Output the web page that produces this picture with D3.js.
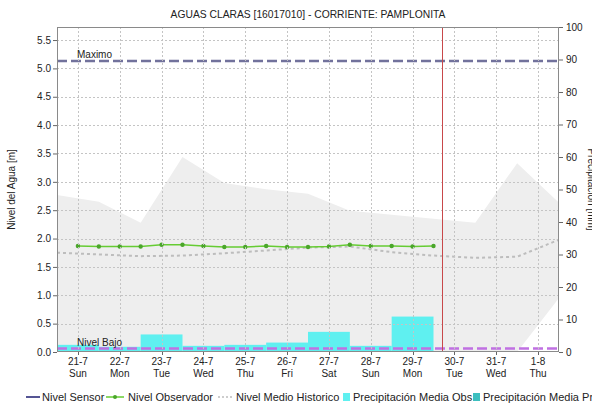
<!DOCTYPE html>
<html>
<head>
<meta charset="utf-8">
<script src="https://cdn.jsdelivr.net/npm/d3@7"></script>
<style>
  body { margin: 0; background: #fff; }
  svg text { font-family: "Liberation Sans", Arial, sans-serif; fill: #222; }
</style>
</head>
<body>
<svg id="chart" width="592" height="403"></svg>
<script>
// Station data: AGUAS CLARAS [16017010], river Pamplonita, 21-7 to 1-8
const dayLabels = ["21-7","22-7","23-7","24-7","25-7","26-7","27-7","28-7","29-7","30-7","31-7","1-8"];
const weekdayLabels = ["Sun","Mon","Tue","Wed","Thu","Fri","Sat","Sun","Mon","Tue","Wed","Thu"];

// daily observed precipitation [mm], 21-7 .. 29-7
const precipObs = [2.2, 1.6, 5.4, 1.9, 2.2, 2.9, 6.2, 1.9, 10.9];
// daily forecast precipitation [mm], 30-7 .. 1-8
const precipForecast = [0, 0, 0];

// observer readings [m], twice a day from 21-7 12:00 to 30-7 00:00
const observerLevel = [1.87, 1.86, 1.86, 1.86, 1.89, 1.89, 1.87, 1.85, 1.85,
                       1.87, 1.85, 1.85, 1.86, 1.89, 1.87, 1.87, 1.86, 1.87];

// historic envelope and mean [m], at midnight from 21-7 to 2-8
const historicMax  = [2.77, 2.65, 2.28, 3.44, 2.98, 2.87, 2.79, 2.49, 2.42, 2.35, 2.28, 3.33, 2.63];
const historicMin  = [0, 0, 0, 0, 0, 0, 0, 0, 0, 0, 0, 0, 0.95];
const historicMean = [1.75, 1.72, 1.69, 1.70, 1.74, 1.79, 1.84, 1.86, 1.76, 1.70, 1.66, 1.68, 1.98];

// sensor level [m] (no signal)
const sensorLevel = [0, 0];

const levelMax = 5.13;
const levelLow = 0.06;
const levelTicks = [0, 0.5, 1, 1.5, 2, 2.5, 3, 3.5, 4, 4.5, 5, 5.5];
const precipTicks = [0, 10, 20, 30, 40, 50, 60, 70, 80, 90, 100];
const nowTime = new Date(2019, 6, 30, 4, 40);

const W = 592, H = 403;
const M = { left: 57, right: 33, top: 27, bottom: 51 };
const svg = d3.select("#chart");

const start = new Date(2019, 6, 21);
const end = new Date(2019, 7, 2);
const day = i => d3.timeDay.offset(start, i);
const halfDay = i => d3.timeHour.offset(start, 12 * i);

const x = d3.scaleTime().domain([start, end]).range([M.left, W - M.right]);
const y = d3.scaleLinear().domain([0, 5.73]).range([H - M.bottom, M.top]);
const yP = d3.scaleLinear().domain([0, 100]).range([H - M.bottom, M.top]);

const tickDates = dayLabels.map((d, i) => d3.timeHour.offset(day(i), 12));

// clip for plot content
svg.append("clipPath").attr("id", "plotClip").append("rect")
  .attr("x", M.left).attr("y", M.top)
  .attr("width", W - M.left - M.right).attr("height", H - M.top - M.bottom);
const plot = svg.append("g").attr("clip-path", "url(#plotClip)");

// historic envelope
const band = historicMax.map((v, i) => ({ t: day(i), hi: v, lo: historicMin[i] }));
plot.append("path").datum(band)
  .attr("fill", "#eeeeee")
  .attr("d", d3.area().x(d => x(d.t)).y0(d => y(d.lo)).y1(d => y(d.hi)));

// grid
const grid = svg.append("g").attr("stroke", "#c4c4c4").attr("stroke-dasharray", "2,2").attr("stroke-width", 1);
grid.selectAll("line.h").data(levelTicks.filter(v => v > 0)).join("line")
  .attr("x1", M.left).attr("x2", W - M.right)
  .attr("y1", d => Math.round(y(d)) + 0.5).attr("y2", d => Math.round(y(d)) + 0.5);
grid.selectAll("line.v").data(tickDates).join("line")
  .attr("x1", d => Math.round(x(d)) + 0.5).attr("x2", d => Math.round(x(d)) + 0.5)
  .attr("y1", M.top).attr("y2", H - M.bottom);

// precipitation bars
plot.selectAll("rect.obs").data(precipObs).join("rect")
  .attr("fill", "#5ff0f0")
  .attr("x", (d, i) => x(day(i)))
  .attr("width", (d, i) => x(day(i + 1)) - x(day(i)))
  .attr("y", d => yP(d))
  .attr("height", d => yP(0) - yP(d));
plot.selectAll("rect.fc").data(precipForecast).join("rect")
  .attr("fill", "#3dbfbf")
  .attr("x", (d, i) => x(day(i + precipObs.length)))
  .attr("width", (d, i) => x(day(i + 1)) - x(day(i)))
  .attr("y", d => yP(d))
  .attr("height", d => yP(0) - yP(d));

// historic mean
plot.append("path").datum(historicMean)
  .attr("fill", "none").attr("stroke", "#bdbdbd").attr("stroke-width", 2)
  .attr("stroke-dasharray", "3,3")
  .attr("d", d3.line().x((d, i) => x(day(i))).y(d => y(d)));

// threshold lines
plot.append("line")
  .attr("x1", M.left).attr("x2", W - M.right)
  .attr("y1", y(levelMax)).attr("y2", y(levelMax))
  .attr("stroke", "#72729c").attr("stroke-width", 2.5).attr("stroke-dasharray", "10,4");
plot.append("line")
  .attr("x1", M.left).attr("x2", W - M.right)
  .attr("y1", y(levelLow)).attr("y2", y(levelLow))
  .attr("stroke", "#c070e2").attr("stroke-width", 2.5).attr("stroke-dasharray", "10,4");
svg.append("text").attr("x", 77).attr("y", y(levelMax) - 3)
  .attr("font-size", 10).text("Maximo");
svg.append("text").attr("x", 77).attr("y", y(levelLow) - 3)
  .attr("font-size", 10).text("Nivel Bajo");

// sensor level
plot.append("path").datum(sensorLevel)
  .attr("fill", "none").attr("stroke", "#1c1c70").attr("stroke-width", 1)
  .attr("stroke-dasharray", "1,1")
  .attr("d", d3.line().x((d, i) => x(i === 0 ? start : end)).y(d => y(d) - 0.5));

// observer readings
const obs = observerLevel.map((v, i) => ({ t: halfDay(i + 1), v }));
plot.append("path").datum(obs)
  .attr("fill", "none").attr("stroke", "#66cc33").attr("stroke-width", 1.5)
  .attr("d", d3.line().x(d => x(d.t)).y(d => y(d.v)));
plot.selectAll("circle.obs").data(obs).join("circle")
  .attr("cx", d => x(d.t)).attr("cy", d => y(d.v)).attr("r", 2.2)
  .attr("fill", "#4aa62a");

// current time marker
svg.append("line")
  .attr("x1", Math.round(x(nowTime)) + 0.5).attr("x2", Math.round(x(nowTime)) + 0.5)
  .attr("y1", M.top).attr("y2", H - M.bottom)
  .attr("stroke", "#c8484a").attr("stroke-width", 1);

// frame
svg.append("rect")
  .attr("x", M.left + 0.5).attr("y", M.top + 0.5)
  .attr("width", W - M.left - M.right - 1).attr("height", H - M.top - M.bottom - 1)
  .attr("fill", "none").attr("stroke", "#8a8a8a");

// left axis
const yAxis = svg.append("g").attr("transform", `translate(${M.left},0)`)
  .call(d3.axisLeft(y).tickValues(levelTicks).tickFormat(d3.format(".1f")).tickSize(4).tickPadding(2));
yAxis.select(".domain").remove();
yAxis.selectAll("line").attr("stroke", "#666");
yAxis.selectAll("text").attr("font-size", 10).attr("fill", "#222");

// right axis
const pAxis = svg.append("g").attr("transform", `translate(${W - M.right},0)`)
  .call(d3.axisRight(yP).tickValues(precipTicks).tickSize(4).tickPadding(3));
pAxis.select(".domain").remove();
pAxis.selectAll("line").attr("stroke", "#666");
pAxis.selectAll("text").attr("font-size", 10).attr("fill", "#222");

// x axis labels
const xl = svg.append("g");
xl.selectAll("line").data(tickDates).join("line")
  .attr("x1", d => Math.round(x(d)) + 0.5).attr("x2", d => Math.round(x(d)) + 0.5)
  .attr("y1", H - M.bottom).attr("y2", H - M.bottom + 3).attr("stroke", "#666");
xl.selectAll("text.d").data(tickDates).join("text")
  .attr("x", d => x(d)).attr("y", H - M.bottom + 13)
  .attr("text-anchor", "middle").attr("font-size", 10)
  .text((d, i) => dayLabels[i]);
xl.selectAll("text.w").data(tickDates).join("text")
  .attr("x", d => x(d)).attr("y", H - M.bottom + 25)
  .attr("text-anchor", "middle").attr("font-size", 10)
  .text((d, i) => weekdayLabels[i]);

// titles
svg.append("text").attr("x", (M.left + W - M.right) / 2).attr("y", 18)
  .attr("text-anchor", "middle").attr("font-size", 10.3)
  .text("AGUAS CLARAS [16017010] - CORRIENTE: PAMPLONITA");
svg.append("text")
  .attr("transform", `translate(15,${(M.top + H - M.bottom) / 2}) rotate(-90)`)
  .attr("text-anchor", "middle").attr("font-size", 10)
  .text("Nivel del Agua [m]");
svg.append("text")
  .attr("transform", `translate(588,${(M.top + H - M.bottom) / 2}) rotate(90)`)
  .attr("text-anchor", "middle").attr("font-size", 10)
  .text("Precipitación [mm]");

// legend
const lg = svg.append("g").attr("transform", "translate(0,397)");
lg.append("line").attr("x1", 26).attr("x2", 40).attr("y1", 0).attr("y2", 0)
  .attr("stroke", "#1c1c70").attr("stroke-width", 1.5);
lg.append("text").attr("x", 42).attr("y", 4).attr("font-size", 11).text("Nivel Sensor");
lg.append("line").attr("x1", 106).attr("x2", 124).attr("y1", 0).attr("y2", 0)
  .attr("stroke", "#66cc33").attr("stroke-width", 1.5);
lg.append("circle").attr("cx", 115).attr("cy", 0).attr("r", 2).attr("fill", "#4aa62a");
lg.append("text").attr("x", 128).attr("y", 4).attr("font-size", 11).text("Nivel Observador");
lg.append("line").attr("x1", 218).attr("x2", 233).attr("y1", 0).attr("y2", 0)
  .attr("stroke", "#bdbdbd").attr("stroke-width", 1.5).attr("stroke-dasharray", "2,2");
lg.append("text").attr("x", 236).attr("y", 4).attr("font-size", 11).text("Nivel Medio Historico");
lg.append("rect").attr("x", 343).attr("y", -4).attr("width", 7).attr("height", 8).attr("fill", "#5ff0f0");
lg.append("text").attr("x", 353).attr("y", 4).attr("font-size", 11).text("Precipitación Media Obs");
lg.append("rect").attr("x", 473).attr("y", -4).attr("width", 7).attr("height", 8).attr("fill", "#3dbfbf");
lg.append("text").attr("x", 483).attr("y", 4).attr("font-size", 11).text("Precipitación Media Pronosticada");
</script>
</body>
</html>
